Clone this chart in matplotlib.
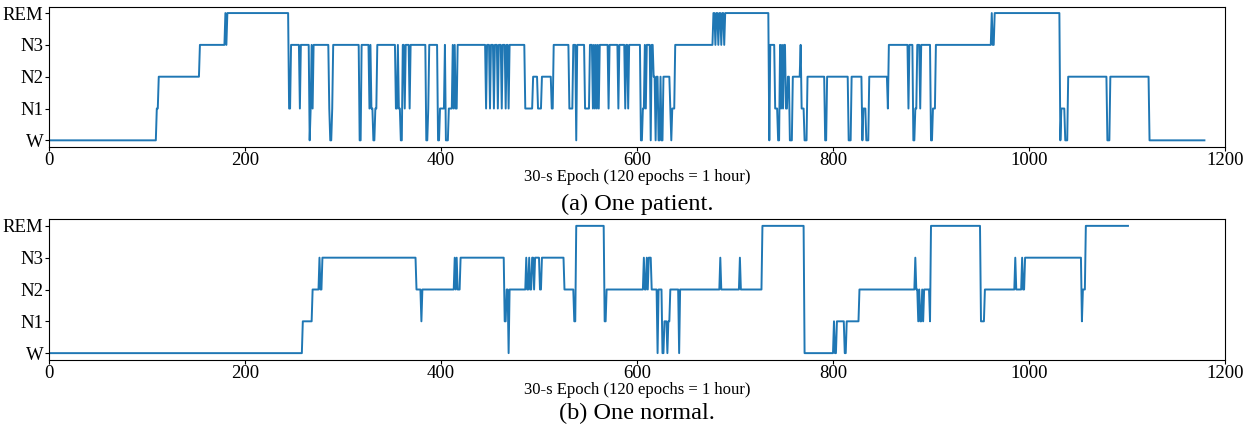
import matplotlib
matplotlib.use("Agg")
import matplotlib.pyplot as plt
import numpy as np

plt.rcParams['font.family'] = ['Liberation Serif', 'DejaVu Serif']

# sleep stages: 0=W, 1=N1, 2=N2, 3=N3, 4=REM
stage_labels = ['W', 'N1', 'N2', 'N3', 'REM']

# hypnogram of one patient, read as (first epoch of a run, stage of the run)
patient_start = [0, 110, 112, 154, 180, 181, 182, 245, 247, 256, 257, 266, 267, 268, 269, 270,
                 286, 287, 289, 290, 317, 319, 327, 328, 329, 331, 333, 335, 354, 356, 357, 359,
                 361, 363, 364, 368, 369, 385, 387, 388, 397, 399, 404, 405, 408, 412, 413, 414,
                 415, 417, 446, 447, 450, 451, 454, 455, 458, 459, 462, 463, 466, 467, 469, 470,
                 486, 494, 499, 503, 513, 515, 531, 535, 538, 539,
                 547, 552, 555, 556, 557, 558, 559, 560, 561, 562, 571, 572, 581, 582, 588, 589,
                 591, 592, 604, 606, 608, 609, 610, 614, 615, 617, 619, 620, 622, 624, 625, 627,
                 634, 635, 636, 639, 678, 680, 681, 683, 684, 686, 687, 689, 690, 735, 736, 741,
                 744, 746, 747, 748, 749, 750, 752, 754, 756, 759, 767, 768, 771, 774, 792, 794,
                 816, 819, 830, 831, 834, 837, 856, 857, 877, 878, 882, 884, 886, 889, 890, 900,
                 902, 905, 962, 963, 965, 1032, 1033, 1037, 1040, 1080, 1083, 1123]
patient_stage = [0, 1, 2, 3, 4, 3, 4, 1, 3, 1, 3, 0, 1, 3, 1, 3,
                 1, 0, 1, 3, 0, 3, 1, 3, 1, 0, 1, 3, 1, 3, 1, 0,
                 3, 1, 3, 1, 3, 0, 1, 3, 0, 1, 3, 0, 1, 3, 1, 3,
                 1, 3, 1, 3, 1, 3, 1, 3, 1, 3, 1, 3, 1, 3, 1, 3,
                 1, 2, 1, 2, 1, 3, 1, 3, 0, 3,
                 1, 3, 1, 3, 1, 3, 1, 3, 1, 3, 1, 3, 1, 3, 1, 3,
                 1, 3, 0, 1, 3, 1, 3, 0, 3, 2, 0, 2, 0, 2, 0, 2,
                 1, 0, 1, 3, 4, 3, 4, 3, 4, 3, 4, 3, 4, 0, 3, 1,
                 0, 3, 1, 3, 1, 3, 1, 2, 0, 2, 3, 1, 0, 2, 0, 2,
                 0, 2, 0, 1, 0, 2, 1, 3, 1, 3, 0, 1, 3, 1, 3, 0,
                 1, 3, 4, 3, 4, 0, 1, 0, 2, 0, 2, 0]
patient_end = 1180

# hypnogram of one normal subject
normal_start = [0, 259, 269, 276, 277, 279, 375, 380, 381, 414, 415, 416, 417, 420, 465, 467,
                469, 470, 487, 488, 490, 491, 493, 495, 496, 501, 503, 526, 536, 538, 567, 569,
                607, 608, 610, 611, 612, 615, 621, 622, 626, 628, 631, 632, 634, 643, 644, 685,
                686, 705, 706, 728, 771, 801, 802, 804, 812, 814, 827, 884, 885, 887, 888, 889,
                891, 892, 893, 899, 900, 951, 955, 986, 987, 993, 994, 996, 1054, 1055, 1058]
normal_stage = [0, 1, 2, 3, 2, 3, 2, 1, 2, 3, 2, 3, 2, 3, 1, 2,
                0, 2, 3, 2, 3, 2, 3, 2, 3, 2, 3, 2, 1, 4, 1, 2,
                3, 2, 3, 2, 3, 2, 0, 2, 0, 1, 0, 1, 2, 0, 2, 3,
                2, 3, 2, 4, 0, 1, 0, 1, 0, 1, 2, 3, 2, 1, 2, 1,
                2, 1, 2, 1, 4, 1, 2, 3, 2, 3, 2, 3, 1, 2, 4]
normal_end = 1102


def expand(starts, stages, end):
    lengths = np.diff(np.append(starts, end))
    return np.repeat(stages, lengths)


patient = expand(patient_start, patient_stage, patient_end)
normal = expand(normal_start, normal_stage, normal_end)

fig = plt.figure(figsize=(12.48, 4.26), dpi=100)
W, H = 1248, 426
panels = [(patient, 146.7, '(a) One patient.', 204),
          (normal, 359.5, '(b) One normal.', 413)]

for y, bottom, caption, cap_y in panels:
    ax = fig.add_axes([49 / W, (H - bottom) / H, 1176 / W, 140 / H])
    ax.plot(np.arange(len(y)), y, color='#1f77b4', lw=1.4)
    ax.set_xlim(0, 1200)
    ax.set_ylim(-0.2, 4.2)
    ax.set_yticks(range(5))
    ax.set_yticklabels(stage_labels)
    ax.set_xticks(range(0, 1201, 200))
    ax.tick_params(labelsize=13.5, pad=1, length=3)
    ax.set_xlabel('30-s Epoch (120 epochs = 1 hour)', fontsize=12, labelpad=0)
    fig.text(637 / W, 1 - cap_y / H, caption, ha='center', va='center', fontsize=17.5)

fig.savefig('out.png', dpi=100)
